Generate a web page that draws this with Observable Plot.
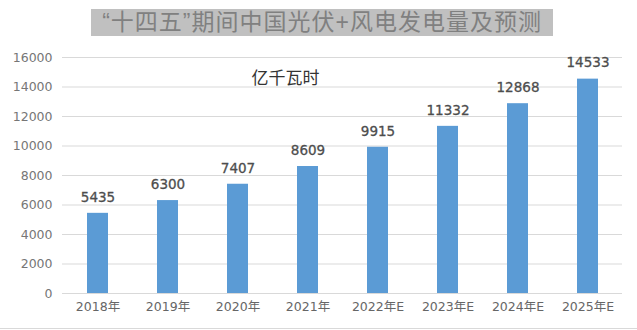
<!DOCTYPE html>
<html><head><meta charset="utf-8">
<script src="https://cdn.jsdelivr.net/npm/d3@7"></script>
<script src="https://cdn.jsdelivr.net/npm/@observablehq/plot@0.6"></script>
<style>
html,body{margin:0;padding:0;background:#fff;}
#wrap{position:relative;width:637px;height:330px;overflow:hidden;font-family:"Noto Sans CJK SC","Noto Sans",sans-serif;}
#title{position:absolute;left:91px;top:9px;width:462px;height:27px;background:#c0c0c0;color:#808080;font-family:"Liberation Sans","Noto Sans CJK SC",sans-serif;font-size:23px;line-height:27px;text-align:center;letter-spacing:1px;white-space:nowrap;}
#chart{position:absolute;left:0;top:45px;}
#bottomline{position:absolute;left:0;top:328px;width:637px;height:1px;background:#d9d9d9;}
</style></head>
<body><div id="wrap"><div id="title">“十四五”期间中国光伏+风电发电量及预测</div><div id="chart"></div><div id="bottomline"></div></div>
<script>
const categories = ["2018年","2019年","2020年","2021年","2022年E","2023年E","2024年E","2025年E"];
const values = [5435, 6300, 7407, 8609, 9915, 11332, 12868, 14533];
const yTicks = [0,2000,4000,6000,8000,10000,12000,14000,16000];
const unitLabel = "亿千瓦时";
const data = categories.map((c,i)=>({year:c, value:values[i]}));
const numFont = '"DejaVu Sans","Noto Sans CJK SC",sans-serif';

const chart = Plot.plot({
  width: 637,
  height: 284,
  marginLeft: 62,
  marginRight: 15,
  marginTop: 12,
  marginBottom: 36,
  style: {fontFamily: numFont, background: "transparent"},
  x: {domain: categories, paddingInner: 0.7, paddingOuter: 0.35, label: null, tickSize: 0, tickPadding: 8},
  y: {domain: [0,16000], ticks: yTicks, label: null, tickSize: 0, tickPadding: 10},
  marks: [
    Plot.gridY(yTicks, {stroke: "#d9d9d9", strokeOpacity: 1}),
    Plot.barY(data, {x: "year", y: "value", fill: "#5b9bd5"}),
    Plot.axisY({ticks: yTicks, tickSize: 0, tickPadding: 10, fontSize: 12.5, fill: "#767676", label: null, tickFormat: d => String(d), stroke: "#767676", strokeWidth: 0.25}),
    Plot.axisX({tickSize: 0, tickPadding: 9, fontSize: 12.5, fill: "#666", label: null}),
    Plot.text(data, {x: "year", y: "value", text: d => String(d.value), dy: -16, fontSize: 13.5, fill: "#4d4d4d", stroke: "#4d4d4d", strokeWidth: 0.3}),
    Plot.text([unitLabel], {frameAnchor: "top-left", dx: 223, dy: 14, text: d => d, fontSize: 17, fill: "#333", textAnchor: "middle", fontFamily: '"Noto Sans CJK SC",sans-serif', letterSpacing: "5px"})
  ]
});
document.getElementById("chart").appendChild(chart);
</script></body></html>
